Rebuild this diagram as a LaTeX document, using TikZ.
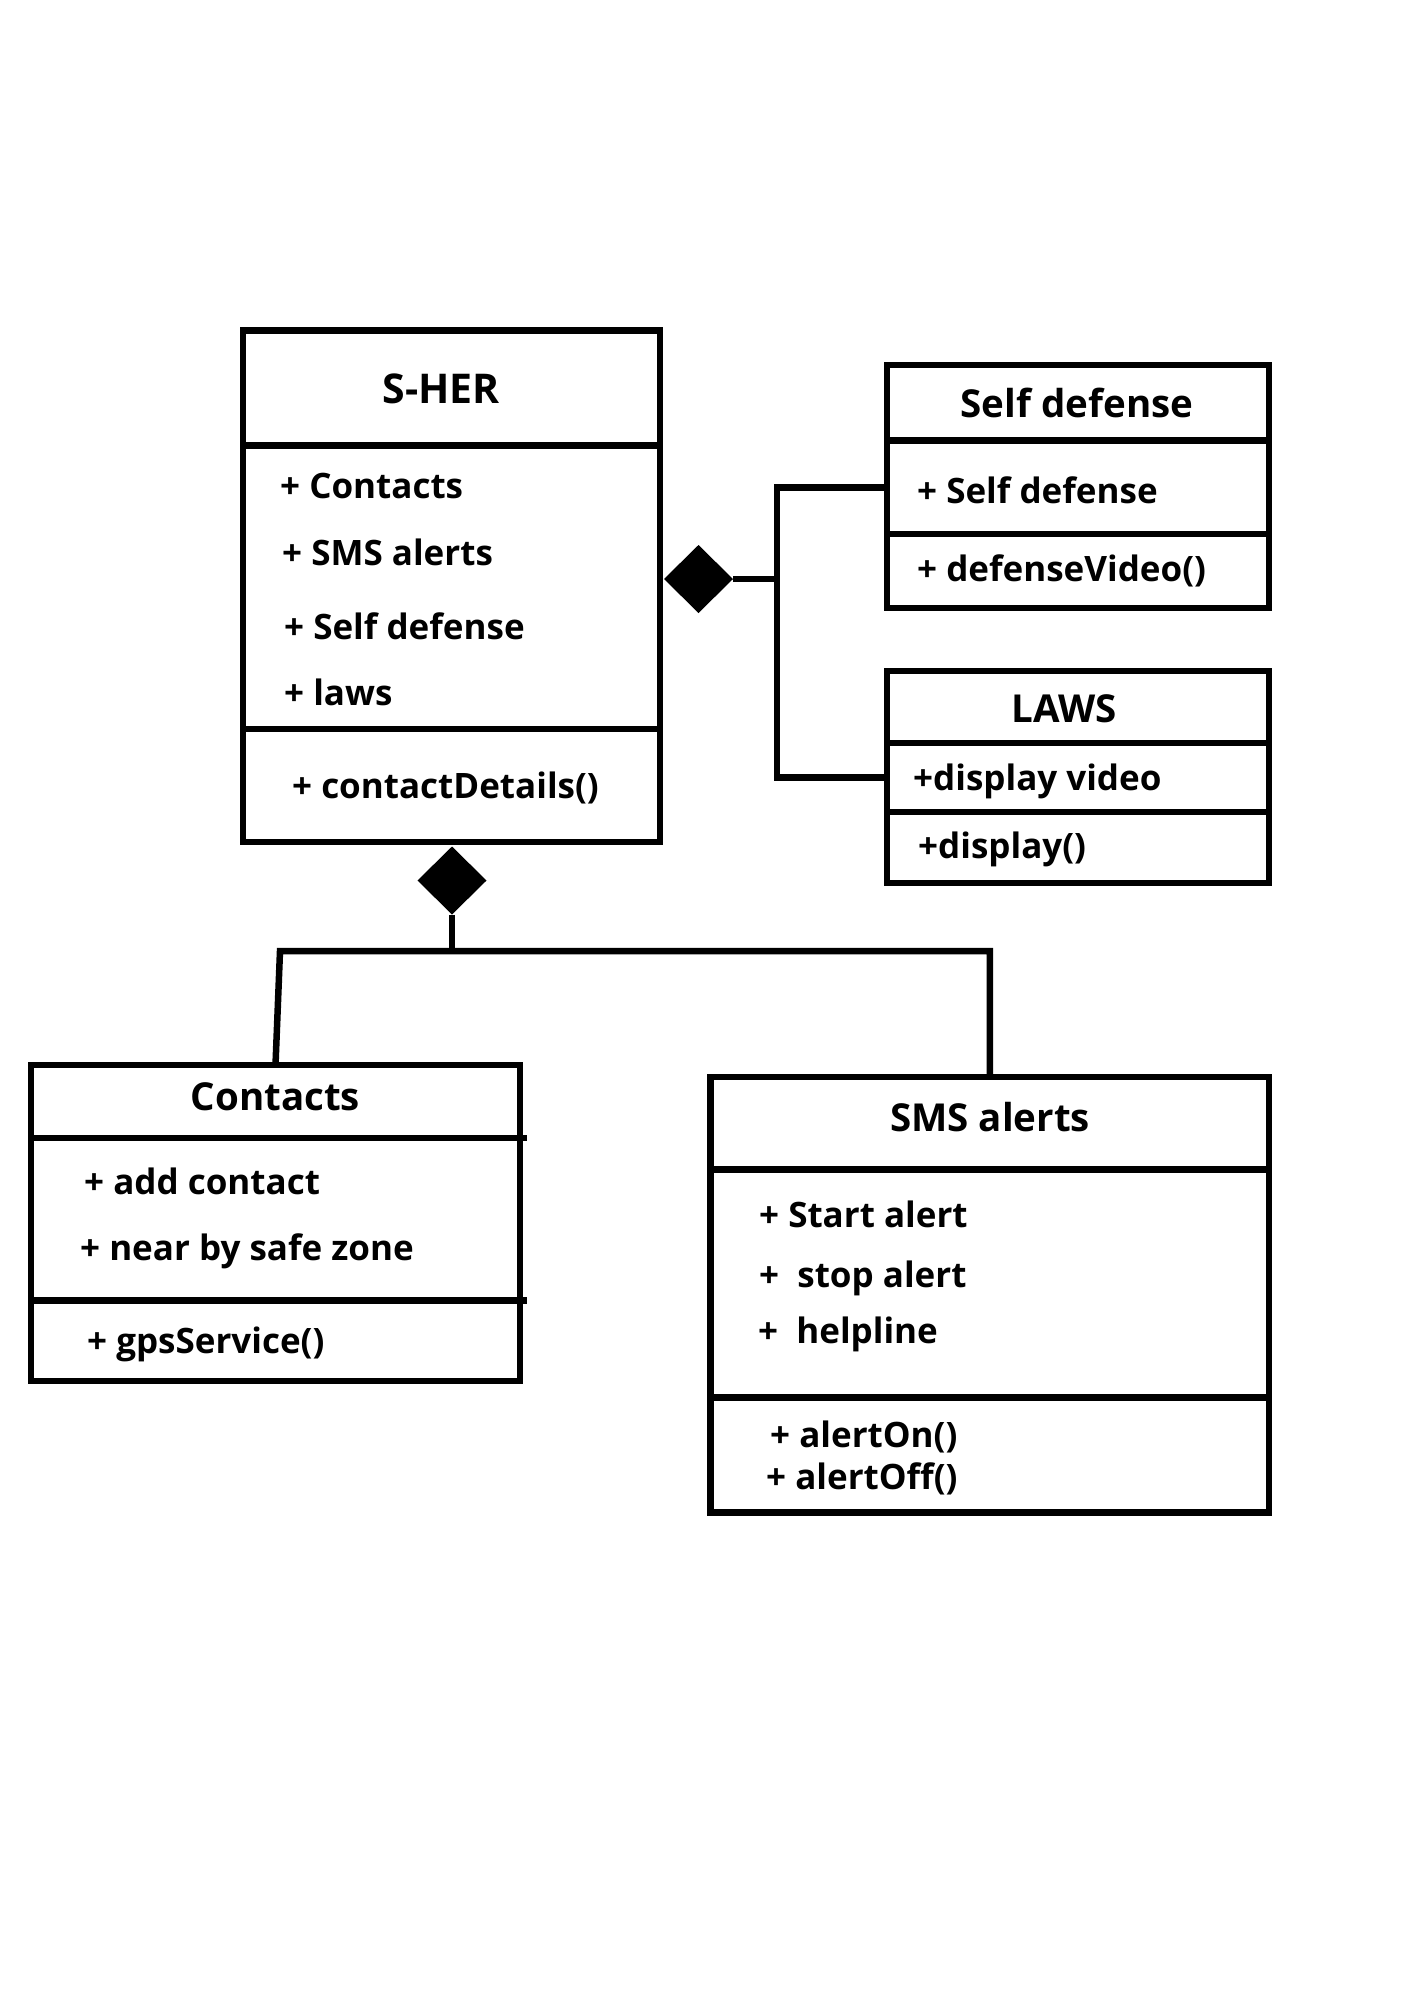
\documentclass[tikz,border=0pt]{standalone}
\usepackage{fontspec}
\setmainfont{Open Sans}
\usetikzlibrary{shapes.geometric}

\begin{document}
\begin{tikzpicture}[x=1pt,y=-1pt,
  part/.style={draw, line width=6.5pt, rectangle, inner sep=0pt, outer sep=0pt, anchor=north west},
  member/.style={anchor=west, inner sep=0pt, text height=25pt, text depth=0pt, font=\fontsize{35}{42}\selectfont\bfseries},
  heading/.style={anchor=center, inner sep=0pt, text height=27pt, text depth=0pt, font=\fontsize{38.5}{46}\selectfont\bfseries},
  link/.style={line width=6.5pt},
  whole/.style={diamond, fill=black, inner sep=0pt, outer sep=0pt, minimum width=69pt, minimum height=68pt}]
\path[fill=white,use as bounding box] (0,0) rectangle (1414,2000);

\node[part, minimum width=417pt, minimum height=115pt] (sherHead) at (243,330.5) {};
\node[part, minimum width=417pt, minimum height=283.5pt] (sherAttr) at (243,445.5) {};
\node[part, minimum width=417pt, minimum height=113pt] (sherOps) at (243,729) {};
\node[heading, font=\fontsize{41}{48}\selectfont\bfseries, text height=29pt] (sherName) at (441,389) {S-HER};
\node[member] (sherA1) at (280,486) {+ Contacts};
\node[member] (sherA2) at (282,553) {+ SMS alerts};
\node[member] (sherA3) at (284,627) {+ Self defense};
\node[member] (sherA4) at (284,693) {+ laws};
\node[member] (sherO1) at (292,786) {+ contactDetails()};

\node[part, minimum width=382pt, minimum height=75.5pt] (selfHead) at (887,365) {};
\node[part, minimum width=382pt, minimum height=93.5pt] (selfAttr) at (887,440.5) {};
\node[part, minimum width=382pt, minimum height=74pt] (selfOps) at (887,534) {};
\node[heading] (selfName) at (1077,404) {Self defense};
\node[member] (selfA1) at (917,491) {+ Self defense};
\node[member] (selfO1) at (917,569) {+ defenseVideo()};

\node[part, minimum width=382pt, minimum height=72pt] (lawsHead) at (887,671) {};
\node[part, minimum width=382pt, minimum height=69pt] (lawsAttr) at (887,743) {};
\node[part, minimum width=382pt, minimum height=71pt] (lawsOps) at (887,812) {};
\node[heading] (lawsName) at (1064,709) {LAWS};
\node[member] (lawsA1) at (913,778) {+display video};
\node[member] (lawsO1) at (918,846) {+display()};

\node[part, minimum width=489pt, minimum height=73pt] (contHead) at (31,1065) {};
\node[part, minimum width=489pt, minimum height=162.5pt] (contAttr) at (31,1138) {};
\node[part, minimum width=489pt, minimum height=80.5pt] (contOps) at (31,1300.5) {};
\node[heading] (contName) at (275.5,1097) {Contacts};
\node[member] (contA1) at (84,1182) {+ add contact};
\node[member] (contA2) at (80,1248) {+ near by safe zone};
\node[member] (contO1) at (87,1341) {+ gpsService()};

\node[part, minimum width=558.5pt, minimum height=92.5pt] (smsHead) at (710.5,1077) {};
\node[part, minimum width=558.5pt, minimum height=228pt] (smsAttr) at (710.5,1169.5) {};
\node[part, minimum width=558.5pt, minimum height=115pt] (smsOps) at (710.5,1397.5) {};
\node[heading] (smsName) at (990,1117.5) {SMS alerts};
\node[member] (smsA1) at (759,1215) {+ Start alert};
\node[member] (smsA2) at (759,1275) {+~ stop alert};
\node[member] (smsA3) at (758,1331) {+~ helpline};
\node[member] (smsO1) at (770,1435) {+ alertOn()};
\node[member] (smsO2) at (766,1477) {+ alertOff()};

\node[whole] (dSide) at (698.5,579) {};
\node[whole] (dDown) at (452,880.5) {};
\coordinate (busR) at (777,579);
\coordinate (busB) at (452,951);
\coordinate (busL) at (280,951);

\path[draw,link] (dSide.east) -- (busR);
\path[draw,link] (selfAttr.west) -| (busR) |- (lawsAttr.west);
\path[draw,link] (dDown.south) -- (busB);
\path[draw,link] (contHead.north) -- (busL) -| (smsHead.north);
\path[draw,link] (contAttr.north east) -- ++(7,0);
\path[draw,link] (contOps.north east) -- ++(7,0);
\end{tikzpicture}
\end{document}
